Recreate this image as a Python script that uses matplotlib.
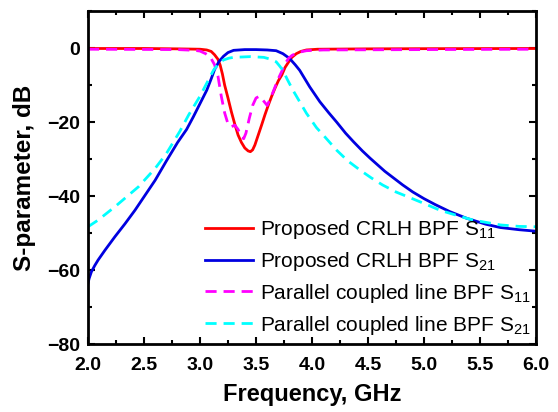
import matplotlib
matplotlib.use("Agg")
import matplotlib.pyplot as plt
from matplotlib.ticker import MultipleLocator

plt.rcParams["font.family"] = ["Liberation Sans", "DejaVu Sans"]
plt.rcParams["mathtext.default"] = "regular"

# Proposed CRLH BPF S11
f_crlh_s11 = [2.0, 2.5, 2.8, 3.0, 3.06, 3.1, 3.13, 3.16, 3.18, 3.2, 3.22, 3.25, 3.28,
              3.31, 3.34, 3.37, 3.40, 3.43, 3.45, 3.47, 3.49, 3.52, 3.55, 3.58, 3.61,
              3.64, 3.67, 3.70, 3.73, 3.76, 3.79, 3.82, 3.86, 3.9, 3.95, 4.05, 4.5, 5.0, 6.0]
s_crlh_s11 = [-0.1, -0.1, -0.2, -0.3, -0.5, -0.9, -1.8, -3.0, -4.6, -7.0, -10.0, -13.5, -17.2,
              -20.5, -23.5, -25.5, -27.0, -27.8, -28.0, -27.5, -26.2, -23.5, -20.8, -18.0, -15.4,
              -13.0, -10.8, -8.8, -7.3, -5.2, -3.8, -2.5, -1.5, -0.9, -0.5, -0.3, -0.2, -0.15, -0.1]

# Proposed CRLH BPF S21
f_crlh_s21 = [2.0, 2.01, 2.03, 2.06, 2.09, 2.15, 2.24, 2.33, 2.42, 2.5, 2.6, 2.7, 2.8, 2.88,
              2.94, 3.0, 3.06, 3.1, 3.13, 3.17, 3.21, 3.25, 3.3, 3.4, 3.5, 3.6, 3.68, 3.74,
              3.8, 3.85, 3.89, 3.93, 3.98, 4.07, 4.15, 4.22, 4.3, 4.37, 4.45, 4.52, 4.65,
              4.81, 4.9, 5.0, 5.1, 5.23, 5.38, 5.55, 5.68, 5.85, 6.0]
s_crlh_s21 = [-63.6, -62.3, -60.5, -58.8, -57.3, -54.7, -51.0, -47.5, -43.8, -40.2, -35.7, -30.5,
              -25.5, -22.0, -18.6, -15.0, -11.4, -8.3, -5.8, -3.6, -2.2, -1.2, -0.6, -0.4,
              -0.4, -0.5, -0.7, -1.5, -2.8, -4.5, -6.0, -8.0, -10.5, -14.5, -17.5, -20.0,
              -23.0, -25.3, -27.8, -29.8, -33.3, -37.0, -38.9, -40.7, -42.3, -44.2, -46.0,
              -47.6, -48.5, -49.1, -49.5]

# Parallel coupled line BPF S11
f_pcl_s11 = [2.0, 2.8, 2.95, 3.0, 3.05, 3.09, 3.13, 3.16, 3.19, 3.22, 3.25, 3.28, 3.31, 3.34,
             3.37, 3.39, 3.41, 3.44, 3.47, 3.50, 3.53, 3.56, 3.6, 3.64, 3.67, 3.70, 3.73,
             3.76, 3.79, 3.82, 3.87, 3.95, 4.1, 5.0, 6.0]
s_pcl_s11 = [-0.3, -0.4, -0.6, -0.8, -1.5, -2.3, -4.5, -7.5, -13.0, -17.5, -20.5, -21.3, -20.8,
             -22.0, -24.0, -24.5, -23.0, -19.0, -15.5, -13.5, -13.0, -14.0, -15.5, -12.8,
             -10.5, -8.2, -6.3, -4.2, -2.8, -2.0, -1.2, -0.7, -0.5, -0.4, -0.3]

# Parallel coupled line BPF S21
f_pcl_s21 = [2.0, 2.09, 2.24, 2.45, 2.6, 2.7, 2.82, 2.9, 3.0, 3.06, 3.12, 3.17, 3.21, 3.26,
             3.3, 3.45, 3.57, 3.63, 3.68, 3.71, 3.74, 3.78, 3.83, 3.89, 3.95, 4.04, 4.1,
             4.22, 4.32, 4.43, 4.53, 4.63, 4.75, 4.88, 5.0, 5.14, 5.3, 5.44, 5.68, 5.85, 6.0]
s_pcl_s21 = [-48.3, -46.5, -42.9, -37.5, -32.5, -28.5, -22.5, -18.0, -13.0, -9.5, -6.0, -4.0,
             -3.2, -2.7, -2.5, -2.3, -2.5, -3.0, -3.7, -4.8, -6.0, -8.5, -11.4, -14.5, -17.6,
             -21.5, -23.5, -27.6, -30.5, -33.0, -35.1, -37.0, -38.9, -40.5, -42.0, -43.8,
             -45.3, -46.5, -47.8, -48.2, -48.3]

labels = ["Proposed CRLH BPF S$_{11}$", "Proposed CRLH BPF S$_{21}$",
          "Parallel coupled line BPF S$_{11}$", "Parallel coupled line BPF S$_{21}$"]

fig = plt.figure(figsize=(5.58, 4.12), dpi=100)
ax = fig.add_axes([0.1577, 0.165, 0.8029, 0.808])

ax.plot(f_crlh_s11, s_crlh_s11, color="#ff0000", lw=2, label=labels[0])
ax.plot(f_crlh_s21, s_crlh_s21, color="#0000e0", lw=2, label=labels[1])
ax.plot(f_pcl_s11, s_pcl_s11, color="#ff00ff", lw=2, dashes=(4, 2.5), label=labels[2])
ax.plot(f_pcl_s21, s_pcl_s21, color="#00ffff", lw=2, dashes=(4, 2.5), label=labels[3])

ax.set_xlim(2.0, 6.0)
ax.set_ylim(-80, 10)
ax.set_xticks([2.0, 2.5, 3.0, 3.5, 4.0, 4.5, 5.0, 5.5, 6.0])
ax.set_yticks([-80, -60, -40, -20, 0])
ax.xaxis.set_minor_locator(MultipleLocator(0.25))
ax.yaxis.set_minor_locator(MultipleLocator(10))
ax.tick_params(which="both", direction="in", top=True, right=True, width=1.5)
ax.tick_params(which="major", length=5, labelsize=14)
ax.tick_params(axis="x", which="major", pad=9)
ax.tick_params(axis="y", which="major", pad=6)
ax.tick_params(which="minor", length=3)
for lab in ax.get_xticklabels() + ax.get_yticklabels():
    lab.set_fontweight("bold")
for sp in ax.spines.values():
    sp.set_linewidth(2)

ax.set_xlabel("Frequency, GHz", fontsize=17, fontweight="bold", labelpad=7)
ax.set_ylabel("S-parameter, dB", fontsize=17.5, fontweight="bold", labelpad=8)

ax.legend(loc="lower right", bbox_to_anchor=(1.015, -0.015), frameon=False,
          fontsize=15, handlelength=2.3, handletextpad=0.3, labelspacing=0.42,
          borderaxespad=0.2)

fig.savefig("out.png", dpi=100)
